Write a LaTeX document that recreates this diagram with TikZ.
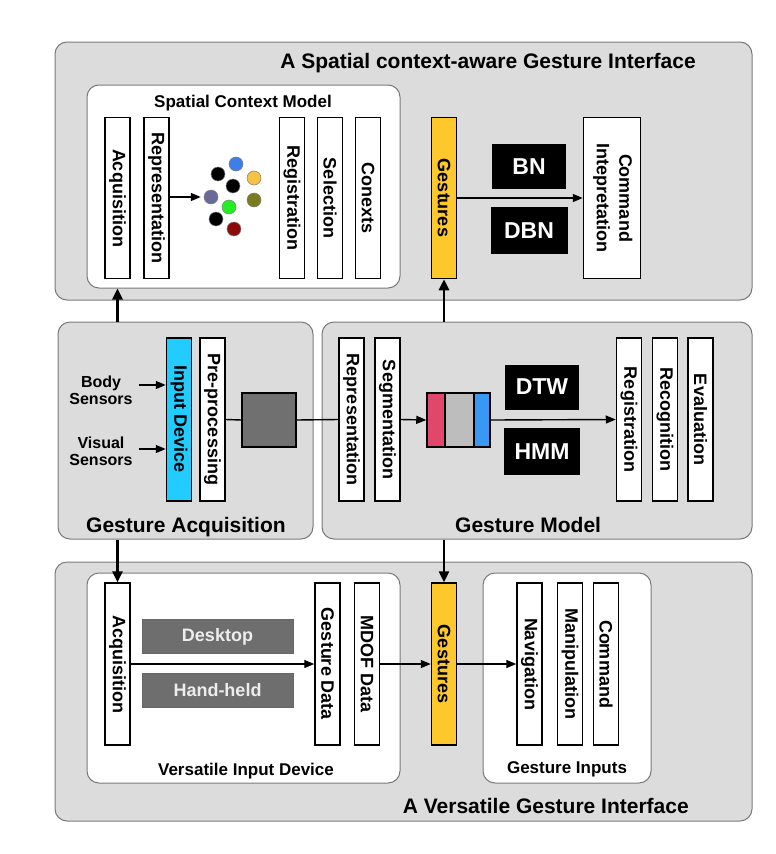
\documentclass[tikz,border=0pt]{standalone}
\usepackage{fontspec}
\setmainfont{Liberation Sans}
\usetikzlibrary{arrows.meta}
\definecolor{outerfill}{HTML}{DCDCDC}
\definecolor{outerdraw}{HTML}{7A7A7A}
\definecolor{gyellow}{HTML}{FCC82C}
\definecolor{gcyan}{HTML}{22CCFF}
\definecolor{sqgray}{HTML}{707070}
\definecolor{boxgray}{HTML}{6E6E6E}
\definecolor{tred}{HTML}{E0476A}
\definecolor{tgray}{HTML}{BDBDBD}
\definecolor{tblue}{HTML}{3A98F5}
\definecolor{cblue}{HTML}{3D7FE6}
\definecolor{cyellow}{HTML}{F5C242}
\definecolor{colive}{HTML}{7A7A1E}
\definecolor{cslate}{HTML}{6A6A9A}
\definecolor{cgreen}{HTML}{22EE22}
\definecolor{cdred}{HTML}{8B0A0A}
\newcommand{\fs}[1]{\fontsize{#1}{#1}\selectfont\bfseries}
\tikzset{
  outerbox/.style={draw=outerdraw, fill=outerfill, line width=1pt, rounded corners=12pt, inner sep=0pt},
  panel/.style={draw=outerdraw, fill=white, line width=1pt, rounded corners=12pt, inner sep=0pt},
  vbar/.style={draw=black, fill=white, line width=1.5pt, minimum width=25pt, minimum height=161pt, inner sep=0pt, font=\fs{18}},
  blk/.style={fill=black, text=white, inner sep=0pt, font=\fs{23}},
  gbox/.style={draw=black!60, fill=boxgray, text=white!93!black, inner sep=0pt, font=\fs{18}, minimum width=151pt, minimum height=34pt},
  arr/.style={line width=1.4pt, -{Triangle[length=10pt,width=8pt]}},
  bigarr/.style={line width=2.6pt, -{Triangle[length=11pt,width=10pt]}},
  dot/.style={circle, draw=black!50, line width=0.5pt, minimum size=14pt, inner sep=0pt},
  ttl/.style={inner sep=0pt},
}
\newcommand{\rt}[1]{\rotatebox{-90}{#1}}
\begin{document}
\begin{tikzpicture}[x=1pt,y=-1pt]
\useasboundingbox (0,0) rectangle (776,854);

% ===== Top section =====
\node[outerbox, minimum width=697pt, minimum height=258pt] (topbox) at (403.5,171) {};
\node[ttl, anchor=base east, font=\fs{21}] (toptitle) at (696,68) {A Spatial context-aware Gesture Interface};
\node[panel, minimum width=313pt, minimum height=203pt] (scm) at (243.5,186.5) {};
\node[ttl, anchor=base, font=\fs{17}] (scmtitle) at (243,107) {Spatial Context Model};
\node[vbar] (acq1) at (117.5,198) {\rt{Acquisition}};
\node[vbar] (rep1) at (156.5,198) {\rt{Representation}};
\node[vbar] (reg1) at (292,198) {\rt{Registration}};
\node[vbar] (sel1) at (330,198) {\rt{Selection}};
\node[vbar] (con1) at (368,198) {\rt{Conexts}};
\node[dot, fill=cblue] (c1) at (236,164) {};
\node[dot, fill=black] (c2) at (218,174) {};
\node[dot, fill=cyellow] (c3) at (254,178) {};
\node[dot, fill=black] (c4) at (233,186) {};
\node[dot, fill=cslate] (c5) at (211,197) {};
\node[dot, fill=colive] (c6) at (254,200) {};
\node[dot, fill=cgreen] (c7) at (229,207) {};
\node[dot, fill=black] (c8) at (216,219) {};
\node[dot, fill=cdred] (c9) at (234,229) {};
\draw[arr] (rep1.east |- c5) -- ([xshift=-3pt]c5.west);

\node[vbar, fill=gyellow] (gest1) at (444,198) {\rt{Gestures}};
\node[blk, minimum width=74pt, minimum height=45pt] (bn) at (529,166.5) {BN};
\node[blk, minimum width=77pt, minimum height=47pt] (dbn) at (529,230.5) {DBN};
\node[vbar, minimum width=57pt] (cmd) at (612,198) {\rt{\begin{tabular}{@{}c@{}}Command\\[4pt]Intepretation\end{tabular}}};
\draw[arr] (gest1.east) -- (cmd.west);

% ===== Middle section =====
\node[outerbox, minimum width=255pt, minimum height=217pt] (ga) at (185.5,430.5) {};
\node[outerbox, minimum width=430pt, minimum height=217pt] (gm) at (537,430.5) {};
\node[ttl, anchor=base west, font=\fs{21}] (gatitle) at (86,532) {Gesture Acquisition};
\node[ttl, anchor=base west, font=\fs{21}] (gmtitle) at (455,532) {Gesture Model};

\node[vbar, fill=gcyan, minimum height=163pt] (indev) at (179,419.5) {\rt{Input Device}};
\node[vbar, minimum height=163pt] (pre) at (212.5,419.5) {\rt{Pre-processing}};
\node[ttl, align=center, font=\fs{16}] (body) at (101,390) {Body\\[1pt]Sensors};
\node[ttl, align=center, font=\fs{16}] (visual) at (101,451) {Visual\\[1pt]Sensors};
\coordinate (bodyA) at (139,385);
\coordinate (visA) at (139,449);
\draw[arr] (bodyA) -- (bodyA -| indev.west);
\draw[arr] (visA) -- (visA -| indev.west);

\node[draw=black, line width=1.5pt, fill=sqgray, minimum width=54pt, minimum height=54pt, inner sep=0pt] (sq) at (269,420) {};
\node[vbar, minimum height=163pt] (rep2) at (351.5,419.5) {\rt{Representation}};
\node[vbar, minimum height=163pt] (seg) at (387.5,419.5) {\rt{Segmentation}};
\draw[line width=1.4pt] (pre.east) -- (sq.west);
\draw[line width=1.4pt] (sq.east) -- (rep2.west);

\node[draw=black, line width=1.5pt, fill=tred, minimum width=18pt, minimum height=54pt, inner sep=0pt] (tr) at (436,420) {};
\node[draw=black, line width=1.5pt, fill=tgray, minimum width=29pt, minimum height=54pt, inner sep=0pt] (tg) at (459.5,420) {};
\node[draw=black, line width=1.5pt, fill=tblue, minimum width=16pt, minimum height=54pt, inner sep=0pt] (tb) at (482,420) {};
\draw[arr] (seg.east) -- (tr.west);

\node[blk, minimum width=74pt, minimum height=45pt] (dtw) at (542,387) {DTW};
\node[blk, minimum width=76pt, minimum height=47pt] (hmm) at (542,451.5) {HMM};

\node[vbar, minimum height=163pt] (reg2) at (629,419.5) {\rt{Registration}};
\node[vbar, minimum height=163pt] (recog) at (665,419.5) {\rt{Recognition}};
\node[vbar, minimum height=163pt] (eval) at (700.5,419.5) {\rt{Evaluation}};
\draw[arr] (tb.east) -- (reg2.west);

% ===== Bottom section =====
\node[outerbox, minimum width=697pt, minimum height=259pt] (botbox) at (403.5,691.5) {};
\node[ttl, anchor=base east, font=\fs{21}] (bottitle) at (689,813) {A Versatile Gesture Interface};
\node[panel, minimum width=313pt, minimum height=210pt] (vid) at (243.5,678) {};
\node[ttl, anchor=base, font=\fs{17}] (vidtitle) at (246,775) {Versatile Input Device};
\node[panel, minimum width=168pt, minimum height=210pt] (gi) at (567,678) {};
\node[ttl, anchor=base, font=\fs{17}] (gititle) at (567,773) {Gesture Inputs};

\node[vbar, minimum height=162pt] (acq2) at (117.5,664) {\rt{Acquisition}};
\node[gbox] (desk) at (217.5,636.5) {Desktop};
\node[gbox] (hand) at (217.5,690.5) {Hand-held};
\node[vbar, minimum height=162pt] (gdata) at (327.5,664) {\rt{Gesture Data}};
\node[vbar, minimum height=162pt] (mdof) at (367,664) {\rt{MDOF Data}};
\node[vbar, fill=gyellow, minimum height=162pt] (gest2) at (444,664) {\rt{Gestures}};
\node[vbar, minimum height=162pt] (nav) at (529.5,664) {\rt{Navigation}};
\node[vbar, minimum height=162pt] (manip) at (570,664) {\rt{Manipulation}};
\node[vbar, minimum height=162pt] (comm) at (606,664) {\rt{Command}};
\draw[arr] (acq2.east) -- (gdata.west);
\draw[arr] (mdof.east) -- (gest2.west);
\draw[arr] (gest2.east) -- (nav.west);

% ===== Connections between sections =====
\draw[bigarr] (ga.north -| acq1) -- (scm.south -| acq1);
\draw[bigarr] (gm.north -| gest1) -- (gest1.south);
\draw[bigarr] (ga.south -| acq2) -- (acq2.north);
\draw[bigarr] (gm.south -| gest2) -- (gest2.north);
\end{tikzpicture}
\end{document}
